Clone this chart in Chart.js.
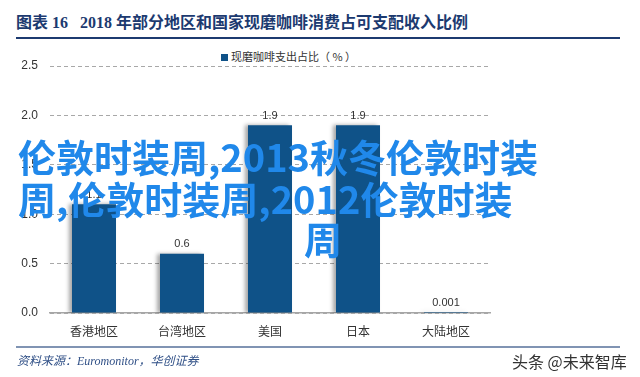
<!DOCTYPE html>
<html>
<head>
<meta charset="utf-8">
<script src="https://cdn.jsdelivr.net/npm/chart.js@4"></script>
<style>
  body { margin: 0; background: #fff; }
  #wrap { position: relative; width: 640px; height: 377px; overflow: hidden; font-family: "Noto Sans CJK SC", sans-serif; }
  #chart { position: absolute; left: 0; top: 0; }
  .title { position: absolute; left: 16px; top: 9px; font: bold 16px "Liberation Serif", "Noto Sans CJK SC", serif; color: #1c3a70; white-space: pre; }
  .rule { position: absolute; left: 16px; width: 604px; }
  .legend { position: absolute; left: 221px; top: 48px; font-size: 11px; color: #333; }
  .legend span { display: inline-block; width: 7px; height: 7px; background: #0f5288; margin-right: 3px; }
  .source { position: absolute; left: 17px; top: 351px; font: italic 12px "Liberation Serif", "Noto Sans CJK SC", serif; color: #2f4f86; }
  .brand { position: absolute; left: 512px; top: 349px; font-size: 16px; color: #333; }
  .wm { position: absolute; font: bold 38px "Noto Sans CJK SC", sans-serif; color: #2088ea; line-height: 38px; white-space: nowrap; }
</style>
</head>
<body>
<div id="wrap">
  <div class="title">图表 16   2018 年部分地区和国家现磨咖啡消费占可支配收入比例</div>
  <div class="rule" style="top:37px;height:2px;background:#1c3a70"></div>
  <div class="legend"><span></span>现磨咖啡支出占比（ % ）</div>
  <canvas id="chart" width="640" height="377"></canvas>
  <div class="rule" style="top:346px;height:2px;background:#8094b3"></div>
  <div class="source">资料来源：Euromonitor，华创证券</div>
  <div class="brand">头条 @未来智库</div>
  <div class="wm" style="left:18px;top:137px">伦敦时装周,2013秋冬伦敦时装</div>
  <div class="wm" style="left:18px;top:179px">周,伦敦时装周,2012伦敦时装</div>
  <div class="wm" style="left:304px;top:219px">周</div>
</div>
<script>
// chart data
const regions = ['香港地区', '台湾地区', '美国', '日本', '大陆地区'];
const shares = [1.1, 0.6, 1.9, 1.9, 0.001];
const shareLabels = ['1.1', '0.6', '1.9', '1.9', '0.001'];
const yTicks = [0, 0.5, 1.0, 1.5, 2.0, 2.5];

// soft shadow on the left side of the bars
const barShadow = {
  id: 'barShadow',
  beforeDatasetsDraw(chart) {
    const c = chart.ctx;
    c.save();
    c.shadowColor = 'rgba(0,0,0,0.35)';
    c.shadowBlur = 4;
    c.shadowOffsetX = -3;
  },
  afterDatasetsDraw(chart) {
    chart.ctx.restore();
  }
};

// value labels over each bar
const valueLabels = {
  id: 'valueLabels',
  afterDatasetsDraw(chart) {
    const c = chart.ctx;
    c.save();
    c.font = '11px "Liberation Sans", Arial, sans-serif';
    c.fillStyle = '#333';
    c.textAlign = 'center';
    c.textBaseline = 'bottom';
    chart.getDatasetMeta(0).data.forEach((bar, i) => {
      c.fillText(shareLabels[i], bar.x, bar.y - 4);
    });
    c.restore();
  }
};

new Chart(document.getElementById('chart'), {
  type: 'bar',
  data: {
    labels: regions,
    datasets: [{
      label: '现磨咖啡支出占比（%）',
      data: shares,
      backgroundColor: '#0f5288',
      barPercentage: 0.5,
      categoryPercentage: 1.0
    }]
  },
  options: {
    responsive: false,
    animation: false,
    layout: { padding: { top: 66, right: 150, left: 0, bottom: 0 } },
    plugins: { legend: { display: false }, tooltip: { enabled: false } },
    scales: {
      x: {
        grid: { display: false, drawTicks: false },
        border: { display: true, color: '#a6a6a6', width: 1.5 },
        ticks: { color: '#333', padding: 11, font: { size: 12, family: '"Noto Sans CJK SC"' } },
        afterFit(scale) { scale.height = 64; }
      },
      y: {
        min: 0,
        max: 2.5,
        afterBuildTicks(scale) { scale.ticks = yTicks.map(v => ({ value: v })); },
        grid: { color: '#a8a8a8', drawTicks: false },
        border: { display: false, dash: [4, 3] },
        ticks: {
          color: '#333',
          padding: 12,
          font: { size: 12, family: '"Liberation Sans", Arial, sans-serif' },
          callback: v => v.toFixed(1)
        },
        afterFit(scale) { scale.width = 50; }
      }
    }
  },
  plugins: [barShadow, valueLabels]
});
</script>
</body>
</html>
